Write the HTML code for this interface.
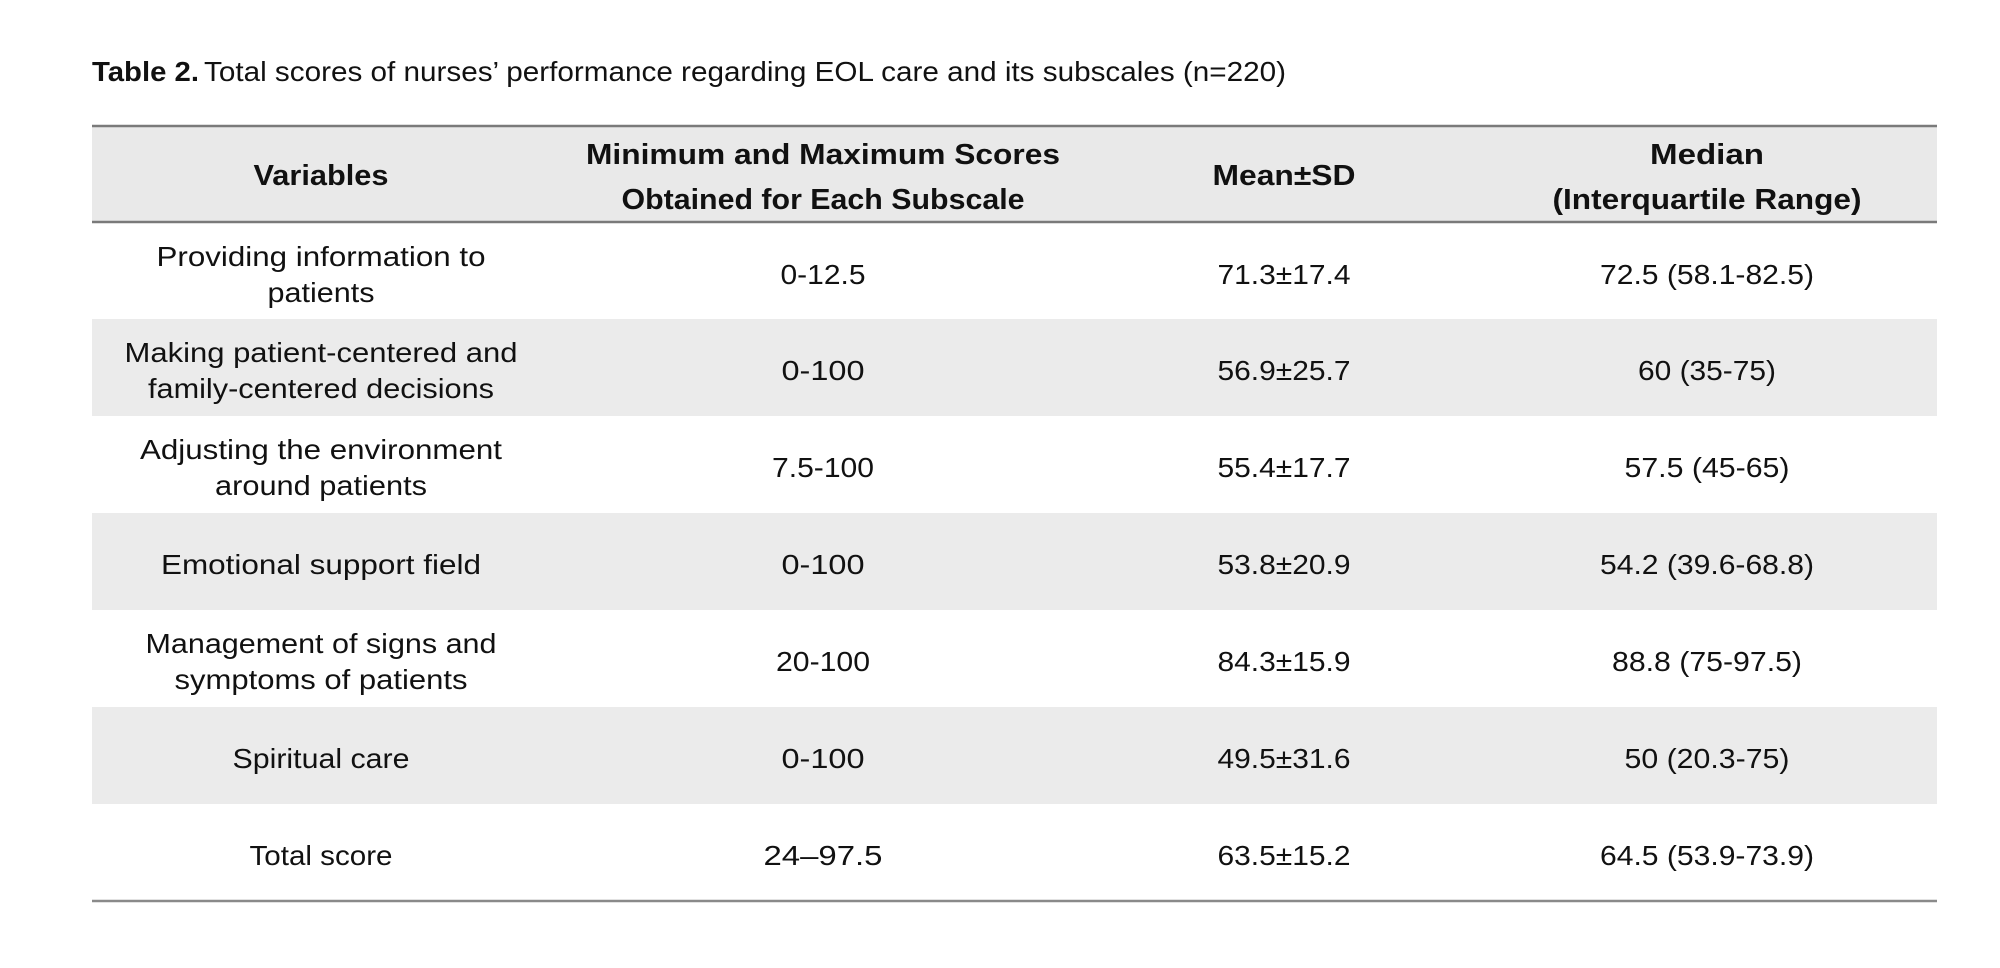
<!DOCTYPE html>
<html><head><meta charset="utf-8"><style>
html,body{margin:0;padding:0;background:#fff;}
svg{display:block}
text{font-family:"Liberation Sans",sans-serif;fill:#111;}
</style></head><body>
<svg width="2000" height="968" viewBox="0 0 2000 968" xmlns="http://www.w3.org/2000/svg">
<rect x="0" y="0" width="2000" height="968" fill="#fff"/>
<text x="92" y="81" font-size="28" font-weight="bold" textLength="107" lengthAdjust="spacingAndGlyphs">Table 2.</text>
<text x="204" y="81" font-size="28" textLength="1082" lengthAdjust="spacingAndGlyphs">Total scores of nurses’ performance regarding EOL care and its subscales (n=220)</text>
<rect x="92" y="126" width="1845" height="96" fill="#e9e9e9"/>
<rect x="92" y="319" width="1845" height="97" fill="#ebebeb"/>
<rect x="92" y="513" width="1845" height="97" fill="#ebebeb"/>
<rect x="92" y="707" width="1845" height="97" fill="#ebebeb"/>
<line x1="92" y1="126" x2="1937" y2="126" stroke="#7a7a7a" stroke-width="2.5"/>
<line x1="92" y1="222" x2="1937" y2="222" stroke="#7a7a7a" stroke-width="2.5"/>
<line x1="92" y1="901" x2="1937" y2="901" stroke="#8a8a8a" stroke-width="2.5"/>
<g font-size="29" font-weight="bold" text-anchor="middle">
<text x="321" y="185" textLength="135" lengthAdjust="spacingAndGlyphs">Variables</text>
<text x="823" y="164" textLength="474" lengthAdjust="spacingAndGlyphs">Minimum and Maximum Scores</text>
<text x="823" y="209" textLength="403" lengthAdjust="spacingAndGlyphs">Obtained for Each Subscale</text>
<text x="1284" y="185" textLength="143" lengthAdjust="spacingAndGlyphs">Mean±SD</text>
<text x="1707" y="164" textLength="114" lengthAdjust="spacingAndGlyphs">Median</text>
<text x="1707" y="209" textLength="309" lengthAdjust="spacingAndGlyphs">(Interquartile Range)</text>
</g>
<g font-size="28" text-anchor="middle">
<text x="321" y="266" textLength="329" lengthAdjust="spacingAndGlyphs">Providing information to</text>
<text x="321" y="302" textLength="107" lengthAdjust="spacingAndGlyphs">patients</text>
<text x="823" y="284" textLength="85" lengthAdjust="spacingAndGlyphs">0-12.5</text>
<text x="1284" y="284" textLength="133" lengthAdjust="spacingAndGlyphs">71.3±17.4</text>
<text x="1707" y="284" textLength="214" lengthAdjust="spacingAndGlyphs">72.5 (58.1-82.5)</text>

<text x="321" y="362" textLength="393" lengthAdjust="spacingAndGlyphs">Making patient-centered and</text>
<text x="321" y="398" textLength="346" lengthAdjust="spacingAndGlyphs">family-centered decisions</text>
<text x="823" y="380" textLength="83" lengthAdjust="spacingAndGlyphs">0-100</text>
<text x="1284" y="380" textLength="133" lengthAdjust="spacingAndGlyphs">56.9±25.7</text>
<text x="1707" y="380" textLength="138" lengthAdjust="spacingAndGlyphs">60 (35-75)</text>

<text x="321" y="459" textLength="362" lengthAdjust="spacingAndGlyphs">Adjusting the environment</text>
<text x="321" y="495" textLength="212" lengthAdjust="spacingAndGlyphs">around patients</text>
<text x="823" y="477" textLength="102" lengthAdjust="spacingAndGlyphs">7.5-100</text>
<text x="1284" y="477" textLength="133" lengthAdjust="spacingAndGlyphs">55.4±17.7</text>
<text x="1707" y="477" textLength="165" lengthAdjust="spacingAndGlyphs">57.5 (45-65)</text>

<text x="321" y="574" textLength="320" lengthAdjust="spacingAndGlyphs">Emotional support field</text>
<text x="823" y="574" textLength="83" lengthAdjust="spacingAndGlyphs">0-100</text>
<text x="1284" y="574" textLength="133" lengthAdjust="spacingAndGlyphs">53.8±20.9</text>
<text x="1707" y="574" textLength="214" lengthAdjust="spacingAndGlyphs">54.2 (39.6-68.8)</text>

<text x="321" y="653" textLength="351" lengthAdjust="spacingAndGlyphs">Management of signs and</text>
<text x="321" y="689" textLength="293" lengthAdjust="spacingAndGlyphs">symptoms of patients</text>
<text x="823" y="671" textLength="94" lengthAdjust="spacingAndGlyphs">20-100</text>
<text x="1284" y="671" textLength="133" lengthAdjust="spacingAndGlyphs">84.3±15.9</text>
<text x="1707" y="671" textLength="190" lengthAdjust="spacingAndGlyphs">88.8 (75-97.5)</text>

<text x="321" y="768" textLength="177" lengthAdjust="spacingAndGlyphs">Spiritual care</text>
<text x="823" y="768" textLength="83" lengthAdjust="spacingAndGlyphs">0-100</text>
<text x="1284" y="768" textLength="133" lengthAdjust="spacingAndGlyphs">49.5±31.6</text>
<text x="1707" y="768" textLength="165" lengthAdjust="spacingAndGlyphs">50 (20.3-75)</text>

<text x="321" y="865" textLength="143" lengthAdjust="spacingAndGlyphs">Total score</text>
<text x="823" y="865" textLength="119" lengthAdjust="spacingAndGlyphs">24–97.5</text>
<text x="1284" y="865" textLength="133" lengthAdjust="spacingAndGlyphs">63.5±15.2</text>
<text x="1707" y="865" textLength="214" lengthAdjust="spacingAndGlyphs">64.5 (53.9-73.9)</text>
</g>
</svg>
</body></html>
